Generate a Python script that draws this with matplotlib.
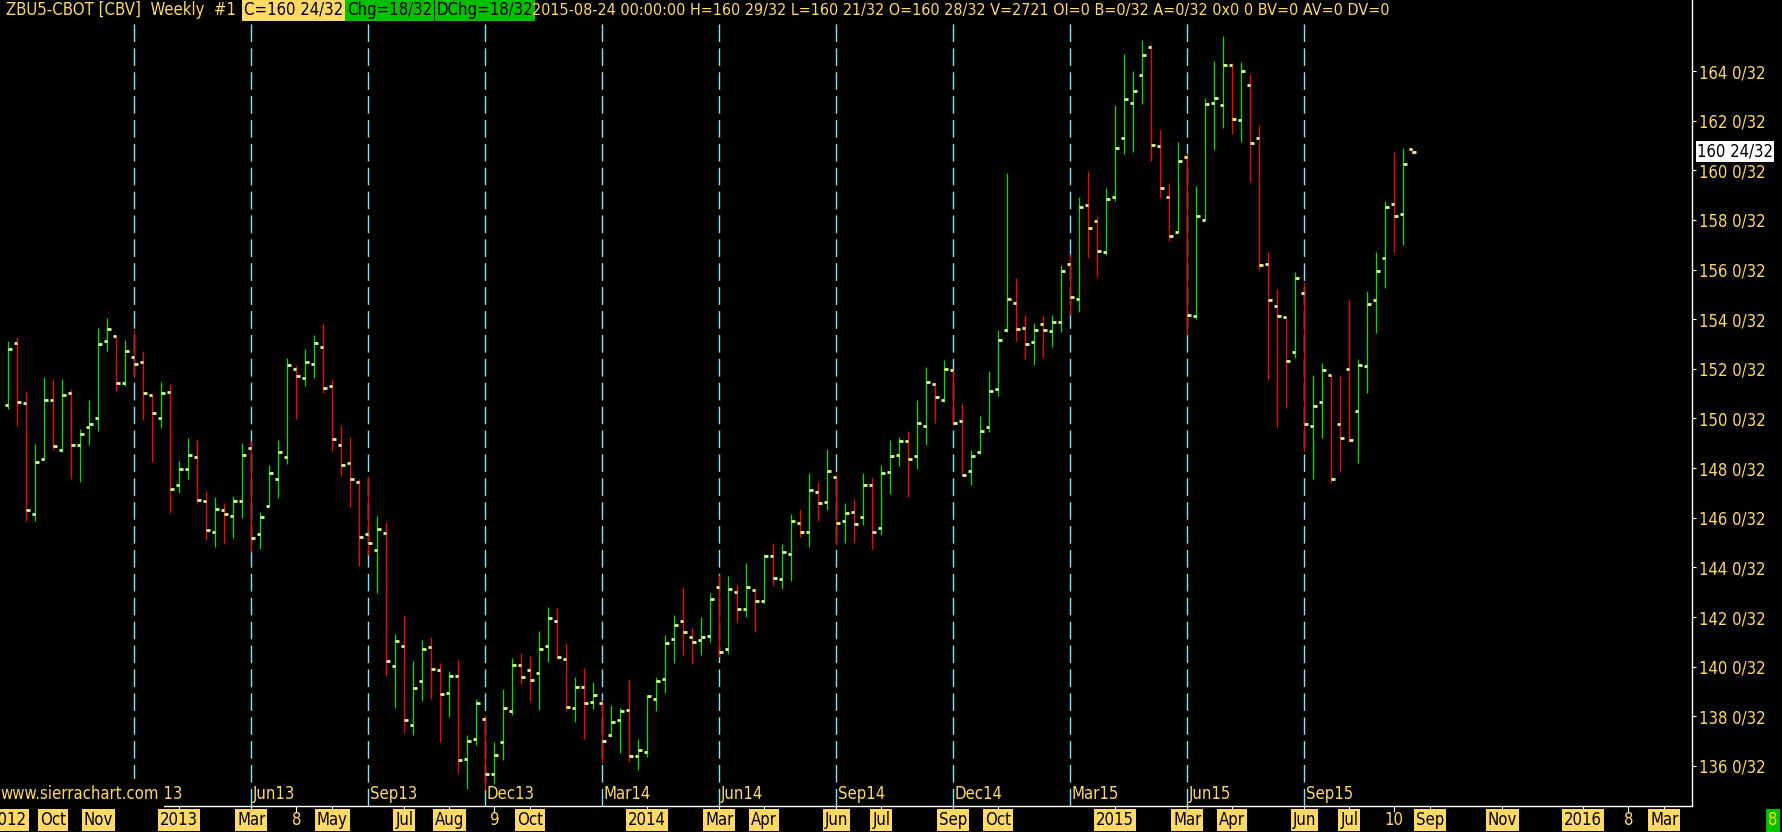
import matplotlib
matplotlib.use("Agg")
import matplotlib.pyplot as plt
import matplotlib.transforms as mtransforms
import numpy as np

# --- Weekly bars ZBU5 (30Y T-Bond), oldest first, prices in points ---
opens = [150.53, 153.03, 150.61, 146.14, 148.35, 150.73, 148.72, 151.01, 148.92, 149.64,
         150.01, 153.11, 153.31, 151.42, 152.46, 152.26, 150.93, 150.02, 151.05, 147.31,
         147.95, 148.44, 146.66, 145.41, 146.30, 146.06, 146.66, 148.80, 145.33, 146.46,
         147.55, 148.44, 151.98, 151.62, 152.18, 152.87, 151.30, 148.92, 148.19, 147.44,
         145.33, 144.69, 145.37, 140.01, 140.82, 137.64, 139.41, 140.78, 139.85, 138.93,
         139.62, 136.27, 137.07, 137.88, 135.66, 136.95, 138.20, 140.05, 139.85, 139.73,
         140.82, 141.84, 140.30, 138.32, 139.17, 138.59, 138.52, 137.23, 137.84, 138.24,
         136.39, 136.55, 138.68, 139.49, 141.10, 141.83, 141.18, 141.06, 141.22, 143.20,
         140.70, 143.00, 142.31, 143.08, 142.64, 144.45, 143.52, 144.53, 145.78, 145.42,
         147.03, 146.63, 147.63, 145.86, 146.22, 146.02, 147.31, 145.58, 147.83, 148.52,
         149.08, 148.48, 149.69, 151.38, 150.74, 151.94, 149.89, 147.87, 148.64, 149.65,
         151.18, 153.56, 154.64, 153.64, 153.07, 153.80, 153.52, 153.87, 156.21, 154.80,
         158.62, 157.94, 156.69, 158.91, 161.32, 162.73, 163.82, 164.95, 160.96, 158.91,
         157.50, 160.52, 154.11, 157.98, 162.73, 162.61, 164.26, 162.01, 163.42, 161.32,
         156.21, 154.55, 154.07, 152.66, 155.04, 149.68, 150.65, 151.77, 149.76, 151.98,
         150.32, 152.10, 154.76, 156.45, 158.66, 158.22, 160.875]
highs = [153.12, 153.27, 151.11, 148.97, 151.67, 151.59, 151.59, 151.19, 149.58, 150.75,
         153.65, 154.06, 153.31, 153.16, 153.57, 152.72, 150.96, 151.47, 151.39, 148.29,
         149.21, 149.13, 147.08, 146.84, 146.60, 146.86, 149.01, 149.08, 146.23, 148.13,
         149.13, 152.42, 152.16, 152.80, 153.36, 153.86, 151.55, 149.74, 149.25, 147.56,
         147.68, 146.07, 145.82, 141.32, 142.04, 140.23, 141.07, 141.20, 140.13, 139.83,
         140.27, 137.25, 138.68, 138.05, 136.97, 139.10, 140.35, 140.55, 140.44, 141.44,
         142.39, 142.36, 140.95, 139.58, 139.95, 139.38, 138.66, 138.46, 138.32, 139.46,
         137.09, 138.86, 139.58, 141.26, 142.08, 143.20, 141.56, 141.99, 142.97, 143.70,
         143.66, 143.30, 144.18, 143.12, 144.54, 144.99, 144.95, 146.16, 146.36, 147.81,
         147.45, 148.77, 147.77, 146.60, 146.76, 147.81, 147.65, 148.13, 149.14, 149.26,
         149.50, 150.75, 152.08, 151.47, 152.36, 151.98, 150.63, 148.73, 150.10, 151.92,
         153.57, 159.89, 155.66, 154.17, 153.85, 154.13, 154.17, 156.17, 156.61, 158.92,
         159.97, 158.15, 159.28, 162.63, 164.68, 164.00, 165.24, 165.08, 161.62, 159.48,
         161.14, 160.68, 159.36, 162.91, 164.40, 165.41, 164.34, 164.36, 163.87, 161.82,
         156.70, 155.21, 154.10, 155.90, 155.49, 151.75, 152.23, 151.77, 151.75, 154.77,
         152.39, 155.13, 156.70, 158.76, 160.73, 160.89, 160.906]
lows = [150.40, 149.71, 145.88, 145.88, 148.33, 148.73, 148.66, 147.56, 147.46, 148.93,
        149.50, 152.73, 151.11, 151.32, 151.69, 149.94, 148.25, 149.62, 146.19, 147.01,
        147.56, 146.61, 145.12, 144.84, 144.94, 145.19, 145.99, 144.63, 144.74, 146.45,
        146.80, 148.18, 149.98, 151.31, 151.63, 151.03, 148.69, 147.70, 146.43, 144.07,
        144.51, 142.98, 139.64, 138.35, 137.34, 137.26, 138.62, 138.71, 136.98, 137.99,
        135.73, 135.09, 136.86, 135.03, 135.26, 136.25, 138.05, 139.30, 138.62, 138.25,
        140.19, 140.30, 138.23, 137.78, 137.09, 138.29, 136.13, 137.15, 136.54, 136.17,
        135.85, 136.36, 138.21, 138.94, 140.15, 140.47, 140.11, 140.47, 141.00, 140.40,
        140.50, 141.80, 142.02, 141.40, 142.56, 143.27, 143.11, 143.47, 145.22, 144.84,
        145.87, 146.33, 144.89, 145.00, 145.04, 145.69, 144.75, 145.32, 146.97, 148.10,
        146.84, 147.98, 148.95, 149.80, 150.68, 149.74, 147.67, 147.30, 148.56, 149.47,
        150.92, 153.48, 153.14, 152.41, 152.17, 152.45, 152.90, 153.49, 154.18, 154.30,
        156.47, 155.71, 156.60, 158.77, 160.66, 160.75, 162.68, 160.38, 158.89, 157.16,
        157.46, 153.41, 154.02, 157.98, 160.83, 161.71, 161.47, 161.15, 159.54, 155.99,
        151.56, 149.67, 150.43, 152.45, 148.66, 147.57, 149.22, 147.41, 147.85, 149.06,
        148.22, 151.04, 153.45, 155.27, 156.68, 157.00, 160.656]
closes = [152.79, 150.65, 146.30, 148.23, 150.73, 148.88, 150.93, 148.92, 149.36, 149.77,
          152.99, 153.59, 151.42, 152.71, 152.18, 151.01, 150.21, 151.01, 147.15, 147.95,
          148.52, 146.70, 145.49, 146.34, 146.14, 146.66, 148.52, 145.17, 146.02, 147.79,
          148.64, 152.14, 151.70, 152.26, 153.03, 151.22, 149.16, 148.11, 147.55, 145.21,
          144.97, 145.53, 140.22, 141.02, 137.84, 139.13, 140.70, 139.89, 138.90, 139.62,
          136.23, 137.01, 138.52, 135.66, 136.43, 138.32, 140.05, 139.57, 139.45, 140.70,
          141.95, 140.39, 138.36, 139.17, 138.52, 138.85, 136.99, 137.77, 138.20, 136.39,
          136.63, 138.81, 139.41, 140.94, 141.67, 141.38, 140.98, 141.18, 142.72, 140.60,
          143.12, 142.31, 143.20, 142.64, 144.45, 143.56, 144.61, 145.86, 145.42, 147.11,
          146.59, 147.87, 145.78, 146.18, 145.74, 147.31, 145.42, 147.79, 148.48, 149.08,
          148.36, 149.81, 151.46, 150.86, 151.98, 149.81, 147.71, 148.48, 149.49, 151.10,
          153.15, 154.80, 153.60, 152.99, 153.56, 153.56, 153.88, 155.96, 154.88, 158.54,
          157.66, 156.73, 158.83, 160.88, 162.89, 163.18, 164.63, 161.00, 159.27, 157.37,
          160.36, 154.15, 158.14, 162.69, 162.93, 164.26, 162.05, 163.98, 161.08, 156.17,
          154.76, 154.11, 152.30, 155.64, 149.76, 150.49, 151.94, 147.58, 149.20, 149.12,
          152.14, 154.63, 155.96, 158.54, 158.14, 160.24, 160.75]

# contract roll bars (index) and their labels
roll_bars = [14, 27, 40, 53, 66, 79, 92, 105, 118, 131, 144]
roll_names = ["Mar13", "Jun13", "Sep13", "Dec13", "Mar14", "Jun14",
              "Sep14", "Dec14", "Mar15", "Jun15", "Sep15"]

# date scale under the chart (bar index, text)
date_ticks = [0, 5, 10, 19, 27, 32, 36, 44, 49, 54, 58, 71, 79, 84, 92, 97,
              105, 110, 123, 131, 136, 144, 149, 154, 158, 166, 175, 180, 184]
date_labels = ["2012", "Oct", "Nov", "2013", "Mar", "8", "May", "Jul", "Aug", "9",
               "Oct", "2014", "Mar", "Apr", "Jun", "Jul", "Sep", "Oct", "2015", "Mar",
               "Apr", "Jun", "Jul", "10", "Sep", "Nov", "2016", "8", "Mar"]

price_ticks = list(range(136, 165, 2))
last_price = 160.75
last_label = "160 24/32"

header_info = ("2015-08-24 00:00:00 H=160 29/32 L=160 21/32 O=160 28/32 V=2721 "
               "OI=0 B=0/32 A=0/32 0x0 0 BV=0 AV=0 DV=0")

# --- Colores estilo Sierra Chart ---
YEL = "#FFD865"
BOXYEL = "#FFD966"
GREEN = "#00E000"
RED = "#FF0000"
TICK = "#D8FF90"
CYAN = "#80E6F8"
FONT = dict(family="DejaVu Sans", stretch="condensed")

W, H, DPI = 1783, 832, 100
fig = plt.figure(figsize=(W / DPI, H / DPI), dpi=DPI, facecolor="black")
ax = fig.add_axes([0, 26 / H, 1692 / W, 806 / H], facecolor="black")

idx = np.arange(len(closes))
o = np.array(opens)
c = np.array(closes)
colors = np.where(c >= o, GREEN, RED)

# contract rolls
for b in roll_bars:
    ax.axvline(b, ymin=0, ymax=(806 - 22) / 806, color=CYAN, lw=1.0,
               linestyle=(0, (12.7, 4.5)), zorder=1)

ax.vlines(idx, lows, highs, colors=colors, lw=0.9, zorder=2)
ax.hlines(o, idx - 0.4, idx, colors=TICK, lw=2.0, zorder=3)
ax.hlines(c, idx, idx + 0.4, colors=TICK, lw=2.0, zorder=3)

ax.set_xlim(-8.3 / 9, (1692 - 8.3) / 9)
ax.set_ylim(164 - 735 / 24.82, 164 + 71 / 24.82)

for s in ["left", "top"]:
    ax.spines[s].set_visible(False)
for s in ["right", "bottom"]:
    ax.spines[s].set_color("white")
    ax.spines[s].set_linewidth(1.0)

ax.yaxis.tick_right()
ax.set_yticks(price_ticks)
ax.set_yticklabels([f"{p} 0/32" for p in price_ticks])
ax.tick_params(axis="y", colors="white", length=3, width=0.8, pad=2, labelcolor=YEL)
ax.set_xticks(date_ticks)
ax.set_xticklabels([])
ax.tick_params(axis="x", colors="white", length=4, width=0.8)
for lab in ax.get_yticklabels():
    lab.set_fontsize(12)
    lab.set_fontfamily(FONT["family"])
    lab.set_fontstretch(FONT["stretch"])

# date labels (boxed months/years, plain day numbers)
trans = mtransforms.blended_transform_factory(ax.transData, fig.transFigure)
for b, txt in zip(date_ticks, date_labels):
    if txt.isdigit() and len(txt) <= 2:
        ax.text(b, 12 / H, txt, transform=trans, ha="center", va="center",
                color=YEL, fontsize=12, clip_on=False, **FONT)
    else:
        ax.text(b, 12 / H, txt, transform=trans, ha="center", va="center",
                color="black", fontsize=12, clip_on=False, **FONT,
                bbox=dict(boxstyle="square,pad=0.12", fc=BOXYEL, ec="none"))

# contract names next to the roll lines
for b, name in zip(roll_bars, roll_names):
    ax.text(b + 0.15, 33 / H, name, transform=trans, ha="left", va="baseline",
            color=YEL, fontsize=12, zorder=4, **FONT)
# site text sits on a black patch that hides the start of "Mar13"
ax.text(0, 33 / H, "www.sierrachart.com", transform=fig.transFigure, ha="left",
        va="baseline", color=YEL, fontsize=12, zorder=6, **FONT,
        bbox=dict(boxstyle="square,pad=0.35", fc="black", ec="none"))

# last price marker on the scale
ytrans = mtransforms.blended_transform_factory(fig.transFigure, ax.transData)
ax.text(1697 / W, last_price, last_label, transform=ytrans, ha="left", va="center",
        color="black", fontsize=12, clip_on=False, zorder=6, **FONT,
        bbox=dict(boxstyle="square,pad=0.08", fc="white", ec="none"))

# header line
hy = (H - 15) / H
fig.text(6 / W, hy, "ZBU5-CBOT [CBV]  Weekly  #1", color=YEL, fontsize=12, va="baseline", **FONT)
fig.text(244 / W, hy, "C=160 24/32", color="black", fontsize=12, va="baseline", **FONT,
         bbox=dict(boxstyle="square,pad=0.12", fc=BOXYEL, ec="none"))
fig.text(347 / W, hy, "Chg=18/32", color="black", fontsize=12, va="baseline", **FONT,
         bbox=dict(boxstyle="square,pad=0.1", fc="#00C000", ec="none"))
fig.text(437 / W, hy, "DChg=18/32", color="black", fontsize=12, va="baseline", **FONT,
         bbox=dict(boxstyle="square,pad=0.1", fc="#00C000", ec="none"))
fig.text(532 / W, hy, header_info, color=YEL, fontsize=11.5, va="baseline", **FONT)

# small status box bottom right
fig.text(1773 / W, 12 / H, "8", color="#FFE000", fontsize=12, ha="center", va="center", **FONT,
         bbox=dict(boxstyle="square,pad=0.15", fc="#00C000", ec="none"))

fig.savefig("out.png", dpi=DPI, facecolor="black")
